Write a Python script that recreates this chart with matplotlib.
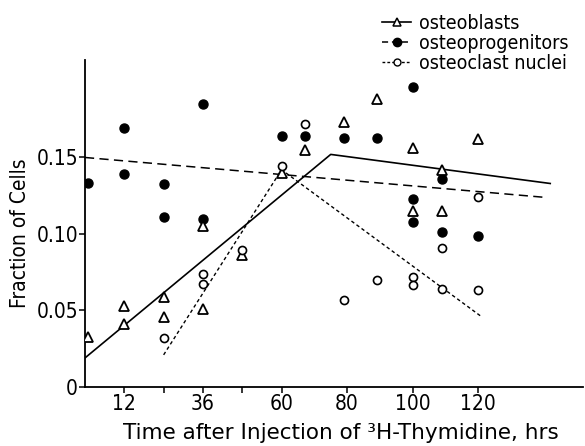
import numpy as np
import matplotlib
matplotlib.use("Agg")
import matplotlib.pyplot as plt
from matplotlib.lines import Line2D
from matplotlib.legend_handler import HandlerLine2D

# Data (hours after injection, fraction of labelled cells)
time_ob = [1, 12, 12, 24, 24, 36, 36, 48, 60, 67, 79, 89, 100, 100, 109, 109, 120]
osteoblasts = [0.033, 0.053, 0.041, 0.059, 0.046, 0.105, 0.051, 0.086, 0.140,
               0.155, 0.173, 0.188, 0.156, 0.115, 0.142, 0.115, 0.162]

time_op = [1, 12, 12, 24, 24, 36, 36, 60, 67, 79, 89, 100, 100, 100, 109, 109, 120]
osteoprogenitors = [0.1335, 0.169, 0.139, 0.1325, 0.111, 0.185, 0.110, 0.164,
                    0.164, 0.163, 0.163, 0.196, 0.123, 0.108, 0.136, 0.1015, 0.0987]

time_oc = [24, 36, 36, 48, 60, 67, 79, 89, 100, 100, 109, 109, 120, 120]
osteoclast_nuclei = [0.032, 0.074, 0.067, 0.0895, 0.1445, 0.172, 0.057, 0.070,
                     0.072, 0.0665, 0.0906, 0.064, 0.0634, 0.124]

# hand-drawn trend lines (vertices)
ob_fit_t = [0, 75, 142]
ob_fit = [0.019, 0.152, 0.133]
op_fit_t = [0, 140]
op_fit = [0.150, 0.124]
oc_fit_t = [24, 60, 121]
oc_fit = [0.021, 0.142, 0.046]

xticks = [12, 24, 36, 48, 60, 80, 100, 120]
xticklabels = ["12", "", "36", "", "60", "80", "100", "120"]
yticks = [0, 0.05, 0.10, 0.15]
yticklabels = ["0", "0.05", "0.10", "0.15"]

plt.rcParams["font.family"] = ["DejaVu Sans"]
plt.rcParams["font.stretch"] = "condensed"
plt.rcParams["font.weight"] = "light"


class MarkerLeft(HandlerLine2D):
    # put the legend marker at the left end of the line sample
    def get_xdata(self, legend, xdescent, ydescent, width, height, fontsize):
        xdata, _ = super().get_xdata(legend, xdescent, ydescent, width, height, fontsize)
        return xdata, np.array([xdata[0]])


fig = plt.figure(figsize=(5.85, 4.46), dpi=100)
ax = fig.add_axes([85 / 585, 1 - 387 / 446, 498 / 585, 327 / 446])

long_dash = (0, (6, 3.5))
short_dash = (0, (2.5, 2))

ax.plot(ob_fit_t, ob_fit, color="black", lw=1.2, zorder=2)
ax.plot(op_fit_t, op_fit, color="black", lw=1.1, linestyle=long_dash, zorder=2)
ax.plot(oc_fit_t, oc_fit, color="black", lw=1.0, linestyle=short_dash, zorder=2)

ax.plot(time_op, osteoprogenitors, "o", color="black", ms=6.5, zorder=3)
ax.plot(time_ob, osteoblasts, "^", mfc="white", mec="black", mew=1.3, ms=7.5, zorder=4)
ax.plot(time_oc, osteoclast_nuclei, "o", mfc="white", mec="black", mew=1.2, ms=5.8, zorder=5)

ax.set_xlim(0, 152)
ax.set_ylim(0, 0.2137)
for side in ["top", "right"]:
    ax.spines[side].set_visible(False)
for side in ["left", "bottom"]:
    ax.spines[side].set_linewidth(1.3)

ax.set_xticks(xticks)
ax.set_xticklabels(xticklabels)
ax.set_yticks(yticks)
ax.set_yticklabels(yticklabels)
ax.tick_params(axis="both", direction="out", length=4, width=1.1, labelsize=15, pad=1)

ax.set_xlabel("Time after Injection of \u00b3H-Thymidine, hrs", fontsize=15.5,
              fontstretch="normal", va="center")
ax.xaxis.set_label_coords(0.514, -0.14)
ax.set_ylabel("Fraction of Cells", fontsize=15, va="center")
ax.yaxis.set_label_coords(-0.13, 0.47)

handles = [
    Line2D([], [], color="black", lw=1.2, marker="^", mfc="white", mec="black", ms=6, mew=1.1),
    Line2D([], [], color="black", lw=1.1, linestyle=(0, (4, 2.5)), marker="o", ms=6),
    Line2D([], [], color="black", lw=1.0, linestyle=(0, (2, 1.5)), marker="o",
           mfc="white", mec="black", ms=5, mew=1.0),
]
labels = ["osteoblasts", "osteoprogenitors", "osteoclast nuclei"]
fig.legend(handles, labels, loc="upper right", bbox_to_anchor=(0.995, 1.0),
           frameon=False, fontsize=14, handlelength=1.5, handletextpad=0.4,
           labelspacing=0.05, borderpad=0.2, numpoints=1,
           handler_map={h: MarkerLeft() for h in handles})

fig.savefig("out.png", dpi=100)
